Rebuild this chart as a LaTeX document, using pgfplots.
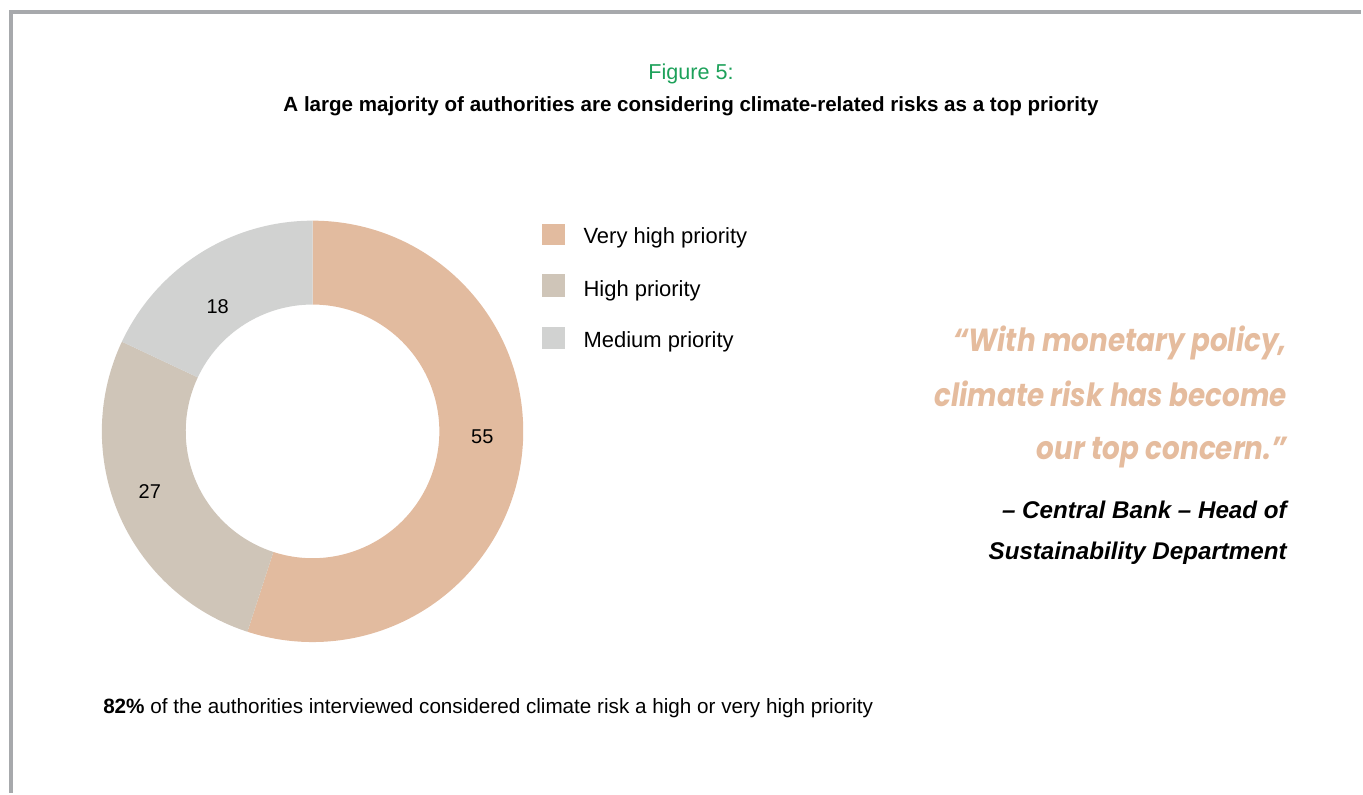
\documentclass[border=0pt]{standalone}
\usepackage{pgfplots}
\pgfplotsset{compat=1.18}
\usepackage{pgfplotstable}
\usepackage{fontspec}
\setmainfont{Liberation Sans}
\newfontfamily\quotefont{Poppins}[FakeStretch=0.87]
\definecolor{vhigh}{HTML}{E2BB9F}
\definecolor{high}{HTML}{CFC5B8}
\definecolor{medium}{HTML}{D1D2D1}
\definecolor{figgreen}{HTML}{1DA15A}
\definecolor{quotecol}{HTML}{E5BC9E}
\definecolor{bordergray}{HTML}{A7A9AC}

\pgfplotstableread{
label value
vh 55
h 27
m 18
}\donutdata
\pgfplotstablegetelem{0}{value}\of\donutdata \let\vA\pgfplotsretval
\pgfplotstablegetelem{1}{value}\of\donutdata \let\vB\pgfplotsretval
\pgfplotstablegetelem{2}{value}\of\donutdata \let\vC\pgfplotsretval
\pgfmathsetmacro\aA{90}
\pgfmathsetmacro\aB{\aA-3.6*\vA}
\pgfmathsetmacro\aC{\aB-3.6*\vB}
\pgfmathsetmacro\aD{\aC-3.6*\vC}
% geometry in pixel units (1 px = 0.5pt)
\def\cx{313}\def\cy{362}\def\Ro{211}\def\Ri{127}
\newcommand\slice[3]{%
  \fill[#1] (axis cs:{\cx+\Ro*cos(#2)},{\cy+\Ro*sin(#2)})
    arc[start angle=#2,end angle=#3,radius=105.5pt]
    -- (axis cs:{\cx+\Ri*cos(#3)},{\cy+\Ri*sin(#3)})
    arc[start angle=#3,end angle=#2,radius=63.5pt] -- cycle;}

\begin{document}
\begin{tikzpicture}
\begin{axis}[
  x=0.5pt, y=0.5pt,
  xmin=0, xmax=1363, ymin=0, ymax=794,
  hide axis, clip=false,
  scale only axis,
]
\path (axis cs:0,0) rectangle (axis cs:1363,794);
% border
\draw[line width=2pt, bordergray] (axis cs:11.3,0) -- (axis cs:11.3,781.7) -- (axis cs:1363,781.7);
% donut
\slice{vhigh}{\aA}{\aB}
\slice{high}{\aB}{\aC}
\slice{medium}{\aC}{\aD}
% slice labels
\node[font=\fontsize{10}{12}\selectfont, anchor=center] at (axis cs:483,357) {\vA};
\node[font=\fontsize{10}{12}\selectfont, anchor=center] at (axis cs:150,302) {\vB};
\node[font=\fontsize{10}{12}\selectfont, anchor=center] at (axis cs:218,487) {\vC};
% legend
\fill[vhigh] (axis cs:543,570) rectangle (axis cs:566,549);
\fill[high] (axis cs:543,520) rectangle (axis cs:566,497);
\fill[medium] (axis cs:543,467) rectangle (axis cs:566,444);
\node[font=\fontsize{11}{12}\selectfont, anchor=base west, inner sep=0pt] at (axis cs:584,550) {Very high priority};
\node[font=\fontsize{11}{12}\selectfont, anchor=base west, inner sep=0pt] at (axis cs:584,497) {High priority};
\node[font=\fontsize{11}{12}\selectfont, anchor=base west, inner sep=0pt] at (axis cs:584,446) {Medium priority};
% titles
\node[font=\fontsize{10.8}{12}\selectfont, text=figgreen, anchor=base, inner sep=0pt] at (axis cs:692,714) {Figure 5:};
\node[font=\bfseries\fontsize{10.3}{12}\selectfont, anchor=base, inner sep=0pt] at (axis cs:692,682) {A large majority of authorities are considering climate-related risks as a top priority};
% quote
\node[font=\quotefont\bfseries\itshape\fontsize{16}{18}\selectfont, text=quotecol, anchor=base east, inner sep=0pt] at (axis cs:1289,442.3) {“With monetary policy,};
\node[font=\quotefont\bfseries\itshape\fontsize{16}{18}\selectfont, text=quotecol, anchor=base east, inner sep=0pt] at (axis cs:1289,387) {climate risk has become};
\node[font=\quotefont\bfseries\itshape\fontsize{16}{18}\selectfont, text=quotecol, anchor=base east, inner sep=0pt] at (axis cs:1289,334) {our top concern.”};
\node[font=\bfseries\itshape\fontsize{12.1}{12}\selectfont, anchor=base east, inner sep=0pt] at (axis cs:1289,275) {– Central Bank – Head of};
\node[font=\bfseries\itshape\fontsize{12.1}{12}\selectfont, anchor=base east, inner sep=0pt] at (axis cs:1289,234) {Sustainability Department};
% footnote
\node[font=\fontsize{10.35}{12}\selectfont, anchor=base west, inner sep=0pt] at (axis cs:103,79) {\textbf{82\%} of the authorities interviewed considered climate risk a high or very high priority};
\end{axis}
\end{tikzpicture}
\end{document}
